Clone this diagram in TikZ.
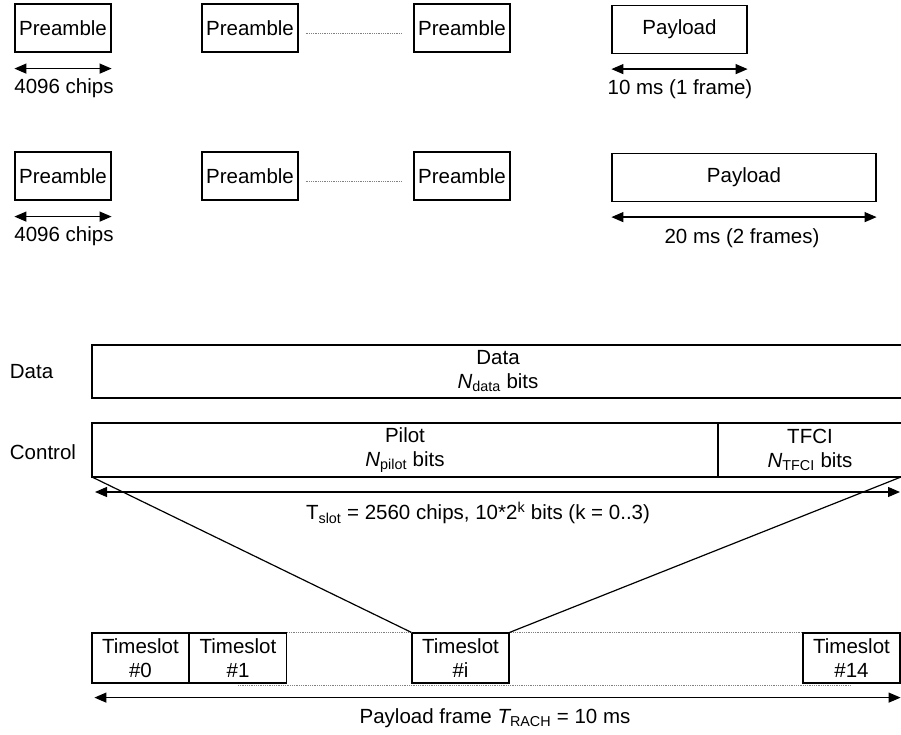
\documentclass[tikz,border=0pt]{standalone}
\usepackage{fontspec}
\setmainfont{Liberation Sans}
\usetikzlibrary{arrows.meta,positioning}

\begin{document}
\begin{tikzpicture}[x=1pt,y=-1pt,line width=1.2pt,font=\fontsize{20.5}{24.5}\selectfont,
  blk/.style={draw,inner sep=0pt,minimum width=96pt,minimum height=48pt,align=center},
  span/.style={{Triangle[length=12pt,width=10pt]}-{Triangle[length=12pt,width=10pt]}},
  dots/.style={densely dotted,line width=0.8pt,gray}]
  \useasboundingbox (0,0) rectangle (901,735);

  % preamble rows with payload
  \foreach \r/\y in {1/28,2/176} {
    \node[blk] (pa\r) at (63,\y) {Preamble};
    \node[blk] (pb\r) at (250,\y) {Preamble};
    \node[blk] (pc\r) at (462,\y) {Preamble};
    \draw[dots,shorten <=7pt,shorten >=11pt] ([yshift=-5pt]pb\r.east) -- ([yshift=-5pt]pc\r.west);
    \draw[span] ([yshift=-16pt]pa\r.south west) -- ([yshift=-16pt]pa\r.south east);
    \node (chips\r) at (64,\y+60) {4096 chips};
  }
  \node[blk,minimum width=135pt] (pl1) at (679.5,29.5) {Payload};
  \draw[span] ([yshift=-15pt]pl1.south west) -- ([yshift=-15pt]pl1.south east);
  \node (len1) at (680,89) {10 ms (1 frame)};
  \node[blk,minimum width=264pt] (pl2) at (744,177.5) {Payload};
  \draw[span] ([yshift=-15pt]pl2.south west) -- ([yshift=-15pt]pl2.south east);
  \node (len2) at (742,238) {20 ms (2 frames)};

  % slot structure
  \node[anchor=west] (datalbl) at (6,372) {Data};
  \node[anchor=west] (ctrllbl) at (6,452) {Control};
  \draw (901,345) -- (92,345) -- (92,398) -- (901,398);
  \node[align=center] (data) at (498,371) {Data\\{\itshape N}\textsubscript{data} bits};
  \coordinate (cbl) at (92,477);
  \coordinate (cbr) at (901,477);
  \draw (901,423) -- (92,423) -- (cbl) -- (cbr);
  \draw (718,423) -- (718,477);
  \node[align=center] (pilot) at (405,450) {Pilot\\{\itshape N}\textsubscript{pilot} bits};
  \node[align=center] (tfci) at (810,450) {TFCI\\{\itshape N}\textsubscript{TFCI} bits};
  \draw[span] ([xshift=3pt,yshift=-15pt]cbl) -- ([xshift=-1pt,yshift=-15pt]cbr);
  \node (tslot) at (478,513) {T\textsubscript{slot} = 2560 chips, 10*2\textsuperscript{k} bits (k = 0..3)};

  % timeslots of the frame
  \foreach \n/\x in {0/140.5,1/238,i/460.5,14/851.5}
    \node[blk,minimum width=97pt,minimum height=50pt] (ts\n) at (\x,658) {Timeslot\\\#\n};
  \draw[dots] (ts1.north east) -- (tsi.north west);
  \draw[dots] (tsi.north east) -- (ts14.north west);
  \draw[dots] ([yshift=-2pt]ts1.south) -- ([yshift=-2pt]ts14.south);
  \draw (cbl) -- (tsi.north west);
  \draw (cbr) -- (tsi.north east);
  \draw[span] ([xshift=3pt,yshift=-14pt]ts0.south west) -- ([yshift=-14pt]ts14.south east);
  \node (frame) at (495,718) {Payload frame {\itshape T}\textsubscript{RACH} = 10 ms};
\end{tikzpicture}
\end{document}
